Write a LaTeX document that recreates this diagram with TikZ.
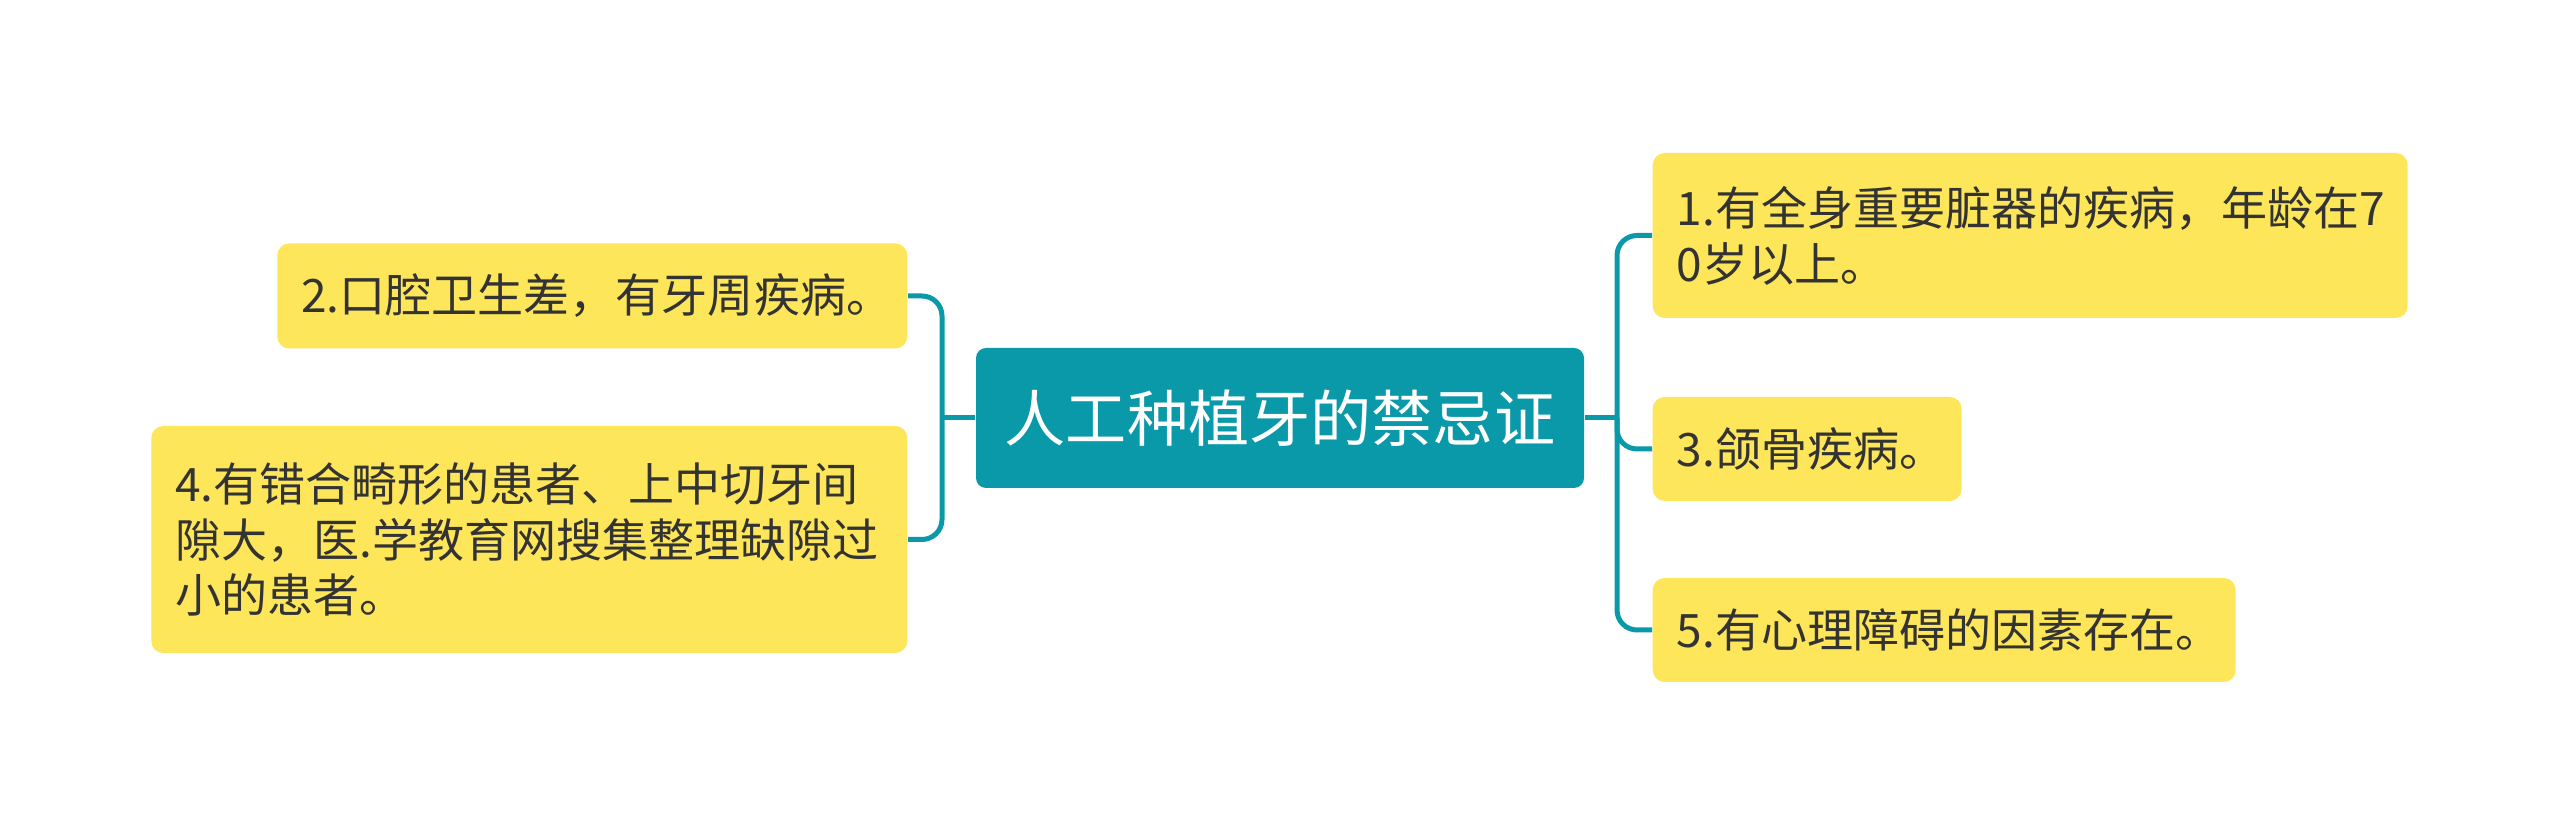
\documentclass[tikz,border=0pt]{standalone}
\usepackage{fontspec}
\setmainfont{Noto Sans CJK SC}
\usepackage{tikz}

\definecolor{mapline}{HTML}{0A99A8}
\definecolor{mapyellow}{HTML}{FDE65A}
\definecolor{maptext}{HTML}{333333}

\tikzset{
  topic/.style={rectangle,rounded corners=0.1cm,fill=mapline,text=white,
    minimum width=6.08cm,minimum height=1.40cm,inner sep=0pt,
    font=\fontsize{17.4pt}{20pt}\selectfont},
  leaf/.style={rectangle,rounded corners=0.12cm,fill=mapyellow,text=maptext,
    align=left,inner xsep=0.24cm,inner ysep=0pt,anchor=west,
    font=\fontsize{13.1pt}{15.9pt}\selectfont},
  link/.style={draw=mapline,line width=0.05cm,rounded corners=0.2cm}
}

\begin{document}
\begin{tikzpicture}
\useasboundingbox (0,0) rectangle (25.6,-8.38);

\node[topic] (root) at (12.80,-4.18) {人工种植牙的禁忌证};

\node[leaf,text width=7.07cm,minimum height=1.65cm] (b1) at (16.52,-2.355) {1.有全身重要脏器的疾病，年龄在7\\0岁以上。};
\node[leaf,text width=2.61cm,minimum height=1.04cm] (b3) at (16.52,-4.49) {3.颌骨疾病。};
\node[leaf,text width=5.35cm,minimum height=1.04cm] (b5) at (16.52,-6.30) {5.有心理障碍的因素存在。};
\node[leaf,anchor=east,text width=5.82cm,minimum height=1.05cm] (b2) at (9.08,-2.96) {2.口腔卫生差，有牙周疾病。};
\node[leaf,anchor=east,text width=7.08cm,minimum height=2.27cm] (b4) at (9.08,-5.395) {4.有错合畸形的患者、上中切牙间\\隙大，医.学教育网搜集整理缺隙过\\小的患者。};

\coordinate (jr) at (16.17,-4.18);
\coordinate (jl) at (9.42,-4.18);

\draw[link] (root.east) -- (jr);
\draw[link] (jr) |- (b1.west);
\draw[link] (jr) |- (b3.west);
\draw[link] (jr) |- (b5.west);
\draw[link] (root.west) -- (jl);
\draw[link] (jl) |- (b2.east);
\draw[link] (jl) |- (b4.east);
\end{tikzpicture}
\end{document}
